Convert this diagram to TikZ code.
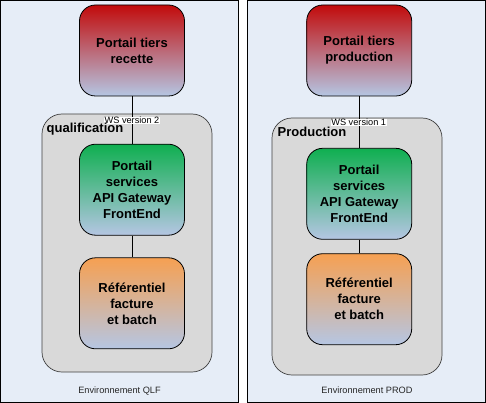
\documentclass[tikz,border=0pt]{standalone}
\usepackage{fontspec}
\setmainfont{Liberation Sans}
\definecolor{envbg}{HTML}{E6EDF7}
\definecolor{contbg}{HTML}{D9D9D9}
\definecolor{redtop}{HTML}{C20B0B}
\definecolor{greentop}{HTML}{0FAF50}
\definecolor{orangetop}{HTML}{F6A052}
\definecolor{fadebot}{HTML}{B5C6E3}
\tikzset{
	env/.style={draw=black, line width=1.4pt, fill=envbg},
	cont/.style={draw=black!75, line width=0.7pt, fill=contbg, rounded corners=20pt},
	box/.style={draw=black, line width=0.8pt, rounded corners=16pt, minimum width=105pt, minimum height=91pt, align=center, inner sep=0pt, font=\fontsize{13}{16}\selectfont\bfseries},
	tiers/.style={box, top color=redtop, bottom color=fadebot},
	serv/.style={box, top color=greentop, bottom color=fadebot},
	refer/.style={box, top color=orangetop, bottom color=fadebot},
	ws/.style={fill=white, inner sep=0.6pt, font=\fontsize{9.2}{10}\selectfont},
	contlabel/.style={anchor=west, inner sep=0pt, font=\fontsize{13}{15}\selectfont\bfseries},
	envlabel/.style={inner sep=0pt, font=\fontsize{9.2}{10}\selectfont, text=black!85}
}
\begin{document}
\begin{tikzpicture}[x=1pt,y=-1pt]
		\useasboundingbox (0,0) rectangle (486,403);
		\draw[env] (0.7,0.7) rectangle (238.5,402.3);
		\draw[env] (247.5,0.7) rectangle (485.3,402.3);
		\draw[cont] (42,114) rectangle (212,372);
		\draw[cont] (272,118) rectangle (442,375);
		
		\path	(132,50.5) node[tiers](tq) {Portail tiers\\recette}
			(132,189.7) node[serv](sq) {Portail\\services\\API Gateway\\FrontEnd}
			(132,303.3) node[refer](rq) {Référentiel\\facture\\et batch};
		\path	(359.2,50.5) node[tiers](tp) {Portail tiers\\production}
			(359.2,193.8) node[serv](sp) {Portail\\services\\API Gateway\\FrontEnd}
			(359.2,299.2) node[refer](rp) {Référentiel\\facture\\et batch};
		
		\draw (tq) -- (sq);
		\draw (sq) -- (rq);
		\draw (tp) -- (sp);
		\draw (sp) -- (rp);
		
		\node[ws] (wsq) at (132,120.5) {WS version 2};
		\node[ws] (wsp) at (358.7,122.5) {WS version 1};
		\node[contlabel] (lq) at (46.5,129) {qualification};
		\node[contlabel] (lp) at (277.5,131.5) {Production};
		\node[envlabel] (eq) at (119.5,391) {Environnement QLF};
		\node[envlabel] (ep) at (367,390) {Environnement PROD};
	\end{tikzpicture}
\end{document}
